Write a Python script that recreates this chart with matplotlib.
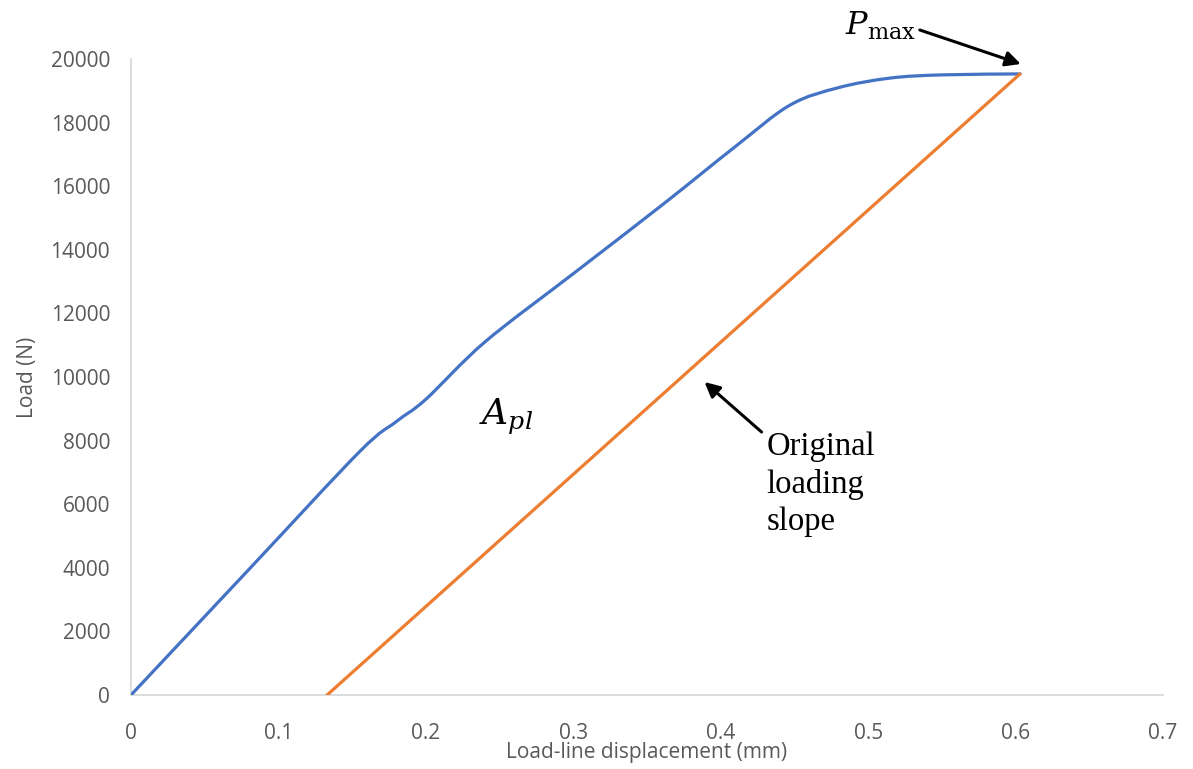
import matplotlib
matplotlib.use("Agg")
import matplotlib.pyplot as plt
from matplotlib.path import Path
from matplotlib.patches import PathPatch

# Load-displacement record (mm, N)
disp = [0, 0.08, 0.155, 0.18, 0.20, 0.24, 0.30, 0.36, 0.41,
        0.447, 0.48, 0.515, 0.55, 0.603]
load = [0, 3950, 7650, 8600, 9300, 11100, 13250, 15400, 17250,
        18550, 19100, 19400, 19500, 19530]

# Unloading line parallel to the original loading slope
unload_disp = [0.133, 0.603]
unload_load = [0, 19530]

x_ticks = [0, 0.1, 0.2, 0.3, 0.4, 0.5, 0.6, 0.7]
x_tick_labels = ["0", "0.1", "0.2", "0.3", "0.4", "0.5", "0.6", "0.7"]
y_ticks = [0, 2000, 4000, 6000, 8000, 10000, 12000, 14000, 16000, 18000, 20000]


def smooth_path(xs, ys, tension=1.0 / 6.0):
    """Cubic Bezier path through the points (Catmull-Rom style smoothing)."""
    n = len(xs)
    verts = [(xs[0], ys[0])]
    codes = [Path.MOVETO]
    for i in range(n - 1):
        x0, y0 = (xs[i - 1], ys[i - 1]) if i > 0 else (xs[i], ys[i])
        x1, y1 = xs[i], ys[i]
        x2, y2 = xs[i + 1], ys[i + 1]
        x3, y3 = (xs[i + 2], ys[i + 2]) if i + 2 < n else (xs[i + 1], ys[i + 1])
        c1 = (x1 + (x2 - x0) * tension, y1 + (y2 - y0) * tension)
        c2 = (x2 - (x3 - x1) * tension, y2 - (y3 - y1) * tension)
        verts += [c1, c2, (x2, y2)]
        codes += [Path.CURVE4] * 3
    return Path(verts, codes)


plt.rcParams["mathtext.fontset"] = "dejavuserif"

fig = plt.figure(figsize=(11.93, 7.69), dpi=100)
ax = fig.add_axes([0.1098, 0.0962, 0.8651, 0.8271])

ax.add_patch(PathPatch(smooth_path(disp, load), facecolor="none",
                       edgecolor="#4472C4", lw=2.3, capstyle="round",
                       joinstyle="round", zorder=3))
ax.plot(unload_disp, unload_load, color="#ED7D31", lw=2.3,
        solid_capstyle="round", zorder=3)

ax.set_xlim(0, 0.7)
ax.set_ylim(0, 20000)
ax.set_xticks(x_ticks)
ax.set_xticklabels(x_tick_labels)
ax.set_yticks(y_ticks)

for s in ("top", "right"):
    ax.spines[s].set_visible(False)
for s in ("left", "bottom"):
    ax.spines[s].set_color("#d9d9d9")
    ax.spines[s].set_linewidth(1.3)

label_font = dict(family="Open Sans", size=15, color="#595959")
ax.tick_params(axis="both", length=0)
ax.tick_params(axis="y", pad=15)
ax.tick_params(axis="x", pad=20)
for lab in ax.get_xticklabels() + ax.get_yticklabels():
    lab.set_fontfamily(label_font["family"])
    lab.set_fontsize(label_font["size"])
    lab.set_color(label_font["color"])

ax.set_xlabel("Load-line displacement (mm)", fontfamily="Open Sans",
              fontsize=15, color="#595959", labelpad=-1)
ax.set_ylabel("Load (N)", fontfamily="Open Sans", fontsize=15,
              color="#595959", labelpad=9)

arrow_style = dict(arrowstyle="-|>,head_length=0.9,head_width=0.45",
                   color="black", lw=2.2, shrinkA=0, shrinkB=0)

# Peak load marker
ax.text(0.484, 20755, r"$P_{\mathrm{max}}$", fontsize=23, color="black",
        ha="left", va="baseline", clip_on=False)
ax.annotate("", xy=(0.6035, 19843), xytext=(0.535, 20912),
            arrowprops=arrow_style, annotation_clip=False)

# Plastic area label
ax.text(0.236, 8490, r"$A_{pl}$", fontsize=26, color="black",
        ha="left", va="baseline")

# Unloading slope label
ax.text(0.431, 8300, "Original\nloading\nslope", fontfamily="Liberation Serif",
        fontsize=23.5, color="black", ha="left", va="top", linespacing=1.3)
ax.annotate("", xy=(0.389, 9843), xytext=(0.4277, 8270),
            arrowprops=arrow_style)

fig.savefig("out.png", dpi=100)
